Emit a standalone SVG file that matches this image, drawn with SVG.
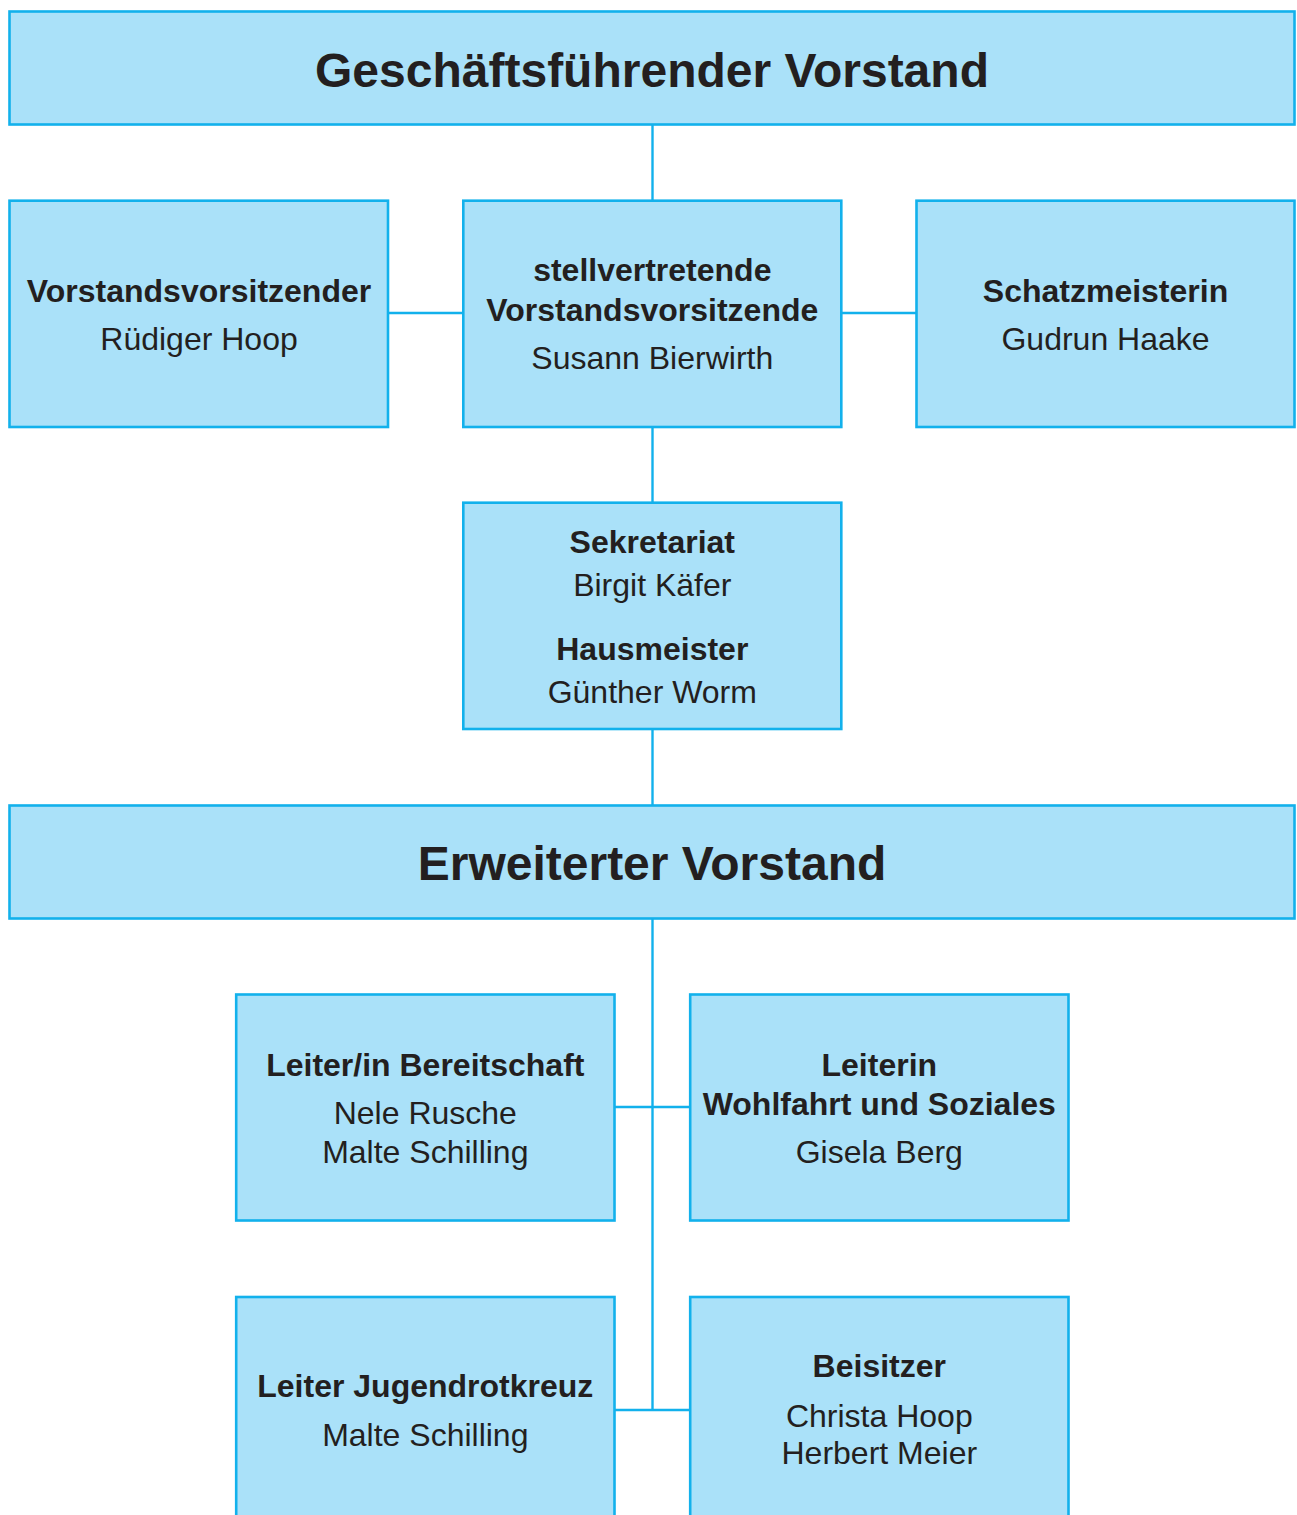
<svg xmlns="http://www.w3.org/2000/svg" width="1297" height="1515" viewBox="0 0 1297 1515">
<style>
.box{fill:#aae1f9;stroke:#12b1ec;stroke-width:2.6}
.con{stroke:#12b1ec;stroke-width:2.4;fill:none}
text{font-family:"Liberation Sans",Arial,Helvetica,sans-serif;fill:#231f20;text-anchor:middle}
.h{font-size:48px;font-weight:bold}
.b{font-size:32px;font-weight:bold}
.r{font-size:32px}
</style>
<rect width="1297" height="1515" fill="#ffffff"/>
<g id="connectors">
<line class="con" x1="652.5" y1="125" x2="652.5" y2="201"/>
<line class="con" x1="388" y1="313" x2="463" y2="313"/>
<line class="con" x1="841" y1="313" x2="917" y2="313"/>
<line class="con" x1="652.5" y1="427" x2="652.5" y2="503"/>
<line class="con" x1="652.5" y1="729" x2="652.5" y2="806"/>
<line class="con" x1="652.5" y1="918" x2="652.5" y2="1410"/>
<line class="con" x1="614" y1="1107" x2="690" y2="1107"/>
<line class="con" x1="614" y1="1410" x2="690" y2="1410"/>
</g>
<g id="gf-vorstand">
<rect class="box" x="9.5" y="11.5" width="1285" height="113"/>
<text class="h" x="652" y="87">Geschäftsführender Vorstand</text>
</g>
<g id="vorsitzender">
<rect class="box" x="9.5" y="200.7" width="378.5" height="226.3"/>
<text class="b" x="199" y="302">Vorstandsvorsitzender</text>
<text class="r" x="199" y="350">Rüdiger Hoop</text>
</g>
<g id="stellvertretende">
<rect class="box" x="463.3" y="200.7" width="378" height="226.3"/>
<text class="b" x="652.3" y="281">stellvertretende</text>
<text class="b" x="652.3" y="321">Vorstandsvorsitzende</text>
<text class="r" x="652.3" y="369">Susann Bierwirth</text>
</g>
<g id="schatzmeisterin">
<rect class="box" x="916.5" y="200.7" width="378" height="226.3"/>
<text class="b" x="1105.5" y="302">Schatzmeisterin</text>
<text class="r" x="1105.5" y="350">Gudrun Haake</text>
</g>
<g id="sekretariat">
<rect class="box" x="463.3" y="502.7" width="378" height="226.3"/>
<text class="b" x="652.3" y="553">Sekretariat</text>
<text class="r" x="652.3" y="596">Birgit Käfer</text>
<text class="b" x="652.3" y="660">Hausmeister</text>
<text class="r" x="652.3" y="703">Günther Worm</text>
</g>
<g id="erweiterter-vorstand">
<rect class="box" x="9.5" y="805.5" width="1285" height="113"/>
<text class="h" x="652" y="880">Erweiterter Vorstand</text>
</g>
<g id="bereitschaft">
<rect class="box" x="236.2" y="994.5" width="378.3" height="226"/>
<text class="b" x="425.3" y="1076">Leiter/in Bereitschaft</text>
<text class="r" x="425.3" y="1124">Nele Rusche</text>
<text class="r" x="425.3" y="1163">Malte Schilling</text>
</g>
<g id="wohlfahrt">
<rect class="box" x="690.2" y="994.5" width="378.3" height="226"/>
<text class="b" x="879.3" y="1076">Leiterin</text>
<text class="b" x="879.3" y="1115">Wohlfahrt und Soziales</text>
<text class="r" x="879.3" y="1163">Gisela Berg</text>
</g>
<g id="jugendrotkreuz">
<rect class="box" x="236.2" y="1297" width="378.3" height="230"/>
<text class="b" x="425.3" y="1397">Leiter Jugendrotkreuz</text>
<text class="r" x="425.3" y="1446">Malte Schilling</text>
</g>
<g id="beisitzer">
<rect class="box" x="690.2" y="1297" width="378.3" height="230"/>
<text class="b" x="879.3" y="1377">Beisitzer</text>
<text class="r" x="879.3" y="1427">Christa Hoop</text>
<text class="r" x="879.3" y="1464">Herbert Meier</text>
</g>
</svg>
